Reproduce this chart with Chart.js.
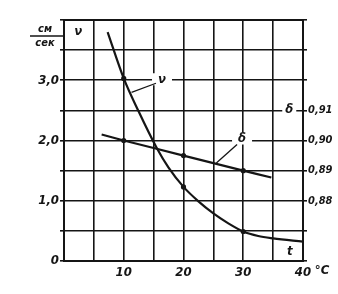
<!DOCTYPE html>
<html>
<head>
<meta charset="utf-8">
<style>
  html, body { margin: 0; padding: 0; background: #fff; }
  #wrap { width: 338px; height: 294px; }
</style>
<script src="https://cdn.jsdelivr.net/npm/chart.js@4.4.1/dist/chart.umd.min.js"></script>
</head>
<body>
<div id="wrap"><canvas id="chart" width="338" height="294"></canvas></div>
<script>
// values
const nuTemps = [7.3, 10, 12.5, 15.5, 17.5, 20, 22.5, 25, 27.5, 30, 32.5, 35, 40];
const nuValues = [3.80, 3.03, 2.48, 1.88, 1.55, 1.23, 0.99, 0.79, 0.625, 0.49, 0.415, 0.375, 0.32];
const deltaTemps = [6.3, 10, 20, 30, 34.7];
const deltaValues = [0.902, 0.900, 0.895, 0.890, 0.8877];
const markedTemps = [10, 20, 30];

const xTickValues = [10, 20, 30, 40];
const leftTickValues = [0, 1, 2, 3];
const leftTickTexts = ["0", "1,0", "2,0", "3,0"];
const rightTickValues = [0.88, 0.89, 0.90, 0.91];
const rightTickTexts = ["0,88", "0,89", "0,90", "0,91"];

const INK = "#151515";
const FONT = "'DejaVu Sans Condensed', 'DejaVu Sans', sans-serif";

function pick(values, texts, v) {
    const i = values.findIndex(t => Math.abs(t - v) < 1e-6);
    return i < 0 ? "" : texts[i];
}

function toPoints(xs, ys) {
    return xs.map((x, i) => ({ x: x, y: ys[i] }));
}

function radii(xs) {
    return xs.map(x => markedTemps.includes(x) ? 2.6 : 0);
}

// extra lettering: frame, curve labels, units
const decorations = {
    id: "decorations",
    afterDraw(chart) {
        const ctx = chart.ctx;
        const a = chart.chartArea;
        const x = chart.scales.x, y = chart.scales.y, y2 = chart.scales.y2;
        ctx.save();
        ctx.strokeStyle = INK;
        ctx.fillStyle = INK;
        ctx.lineWidth = 2;
        ctx.strokeRect(a.left, a.top, a.right - a.left, a.bottom - a.top);

        ctx.font = "italic bold 13px " + FONT;
        ctx.textAlign = "center";
        ctx.textBaseline = "middle";

        function label(text, px, py, gap) {
            ctx.fillStyle = "#fff";
            ctx.fillRect(px - gap, py - 6, gap * 2, 12);
            ctx.fillStyle = INK;
            ctx.fillText(text, px, py);
        }

        // ν on the 3,0 line with leader
        const nuX = x.getPixelForValue(16.4), nuY = y.getPixelForValue(3.0);
        label("ν", nuX, nuY - 1, 10);
        ctx.lineWidth = 1.3;
        ctx.beginPath();
        ctx.moveTo(x.getPixelForValue(11.3), y.getPixelForValue(2.8));
        ctx.lineTo(nuX - 6, nuY + 3);
        ctx.stroke();

        // δ on the 0,90 line with leader
        const dX = x.getPixelForValue(29.8), dY = y2.getPixelForValue(0.90);
        label("δ", dX, dY - 2, 10);
        ctx.beginPath();
        ctx.moveTo(x.getPixelForValue(25.5), y2.getPixelForValue(0.8925));
        ctx.lineTo(dX - 5, dY + 4);
        ctx.stroke();

        // δ axis name on the 0,91 line
        label("δ", x.getPixelForValue(37.7), y2.getPixelForValue(0.91) - 1, 7);

        // ν and t inside the corner cells
        ctx.fillText("ν", x.getPixelForValue(2.4), y.getPixelForValue(3.8));
        ctx.fillText("t", x.getPixelForValue(37.8), y.getPixelForValue(0.15));

        // °C after 40
        ctx.fillText("°C", a.right + 19, a.bottom + 10);

        // units см / сек
        ctx.font = "italic bold 11px " + FONT;
        ctx.fillText("см", 45, 29);
        ctx.fillText("сек", 45, 43);
        ctx.lineWidth = 1.5;
        ctx.beginPath();
        ctx.moveTo(30, 36);
        ctx.lineTo(a.left - 1, 36);
        ctx.stroke();
        ctx.restore();
    }
};

const gridStyle = { color: INK, lineWidth: 1.6 };

new Chart(document.getElementById("chart"), {
    type: "line",
    data: {
        datasets: [
            {
                label: "ν",
                data: toPoints(nuTemps, nuValues),
                yAxisID: "y",
                borderColor: INK,
                borderWidth: 2.2,
                cubicInterpolationMode: "monotone",
                pointRadius: radii(nuTemps),
                pointBackgroundColor: INK,
                pointBorderWidth: 0
            },
            {
                label: "δ",
                data: toPoints(deltaTemps, deltaValues),
                yAxisID: "y2",
                borderColor: INK,
                borderWidth: 2.2,
                tension: 0.2,
                pointRadius: radii(deltaTemps),
                pointBackgroundColor: INK,
                pointBorderWidth: 0
            }
        ]
    },
    options: {
        responsive: false,
        animation: false,
        devicePixelRatio: 1,
        layout: { padding: { top: 20, left: 0, right: 0, bottom: 0 } },
        plugins: { legend: { display: false }, tooltip: { enabled: false } },
        scales: {
            x: {
                type: "linear",
                min: 0,
                max: 40,
                grid: { ...gridStyle, tickLength: 0 },
                border: { color: INK, width: 2 },
                ticks: {
                    stepSize: 5,
                    autoSkip: false,
                    maxRotation: 0,
                    padding: 4,
                    color: INK,
                    font: { family: FONT, size: 13, style: "italic", weight: "bold" },
                    callback: v => xTickValues.includes(v) ? String(v) : ""
                },
                afterFit: s => { s.height = 33; }
            },
            y: {
                position: "left",
                min: 0,
                max: 4,
                grid: { ...gridStyle, tickLength: 4 },
                border: { color: INK, width: 2 },
                ticks: {
                    stepSize: 0.5,
                    autoSkip: false,
                    padding: 1,
                    color: INK,
                    font: { family: FONT, size: 13, style: "italic", weight: "bold" },
                    callback: v => pick(leftTickValues, leftTickTexts, v)
                },
                afterFit: s => { s.width = 64; }
            },
            y2: {
                position: "right",
                min: 0.86,
                max: 0.94,
                grid: { drawOnChartArea: false, color: INK, lineWidth: 1.6, tickLength: 4 },
                border: { color: INK, width: 2 },
                ticks: {
                    stepSize: 0.01,
                    autoSkip: false,
                    padding: 1,
                    color: INK,
                    font: { family: FONT, size: 11, style: "italic", weight: "bold" },
                    callback: v => pick(rightTickValues, rightTickTexts, v)
                },
                afterFit: s => { s.width = 35; }
            }
        }
    },
    plugins: [decorations]
});
</script>
</body>
</html>
